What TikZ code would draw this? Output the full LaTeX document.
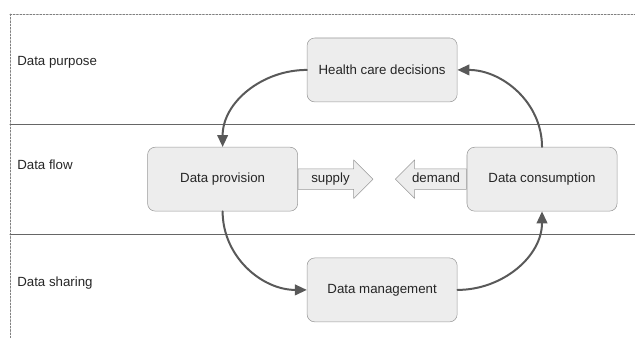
\documentclass[tikz,border=0pt]{standalone}
\usepackage{fontspec}
\setmainfont{Liberation Sans}
\usepackage{tikz}
\usetikzlibrary{arrows.meta}
\usetikzlibrary{positioning}
\usetikzlibrary{shapes.arrows}

\tikzset{
  stage/.style={draw=black!40,fill=black!7,rounded corners=0.2cm,text=black!85,
    minimum width=3.97cm,minimum height=1.69cm},
  layer/.style={anchor=west,text=black!85,inner xsep=0pt},
  flowarrow/.style={single arrow,draw=black!40,fill=black!7,text=black!85,
    single arrow head extend=0.24cm,text height=7pt,text depth=2pt,inner ysep=3pt,
    inner xsep=0pt,anchor=tail},
  cycle/.style={->,draw=black!65,line width=1.5pt}
}

\begin{document}
\begin{tikzpicture}[line cap=round,line join=round,>={Triangle[length=9pt,width=8pt]},x=1.0cm,y=1.0cm]
\clip(0,0) rectangle (16.8,-8.94);
% layers
\draw [black!50,dash pattern=on 1.5pt off 1pt] (0.26,-0.37)-- (16.8,-0.37);
\draw [black!50,dash pattern=on 1.5pt off 1pt] (0.26,-0.37)-- (0.26,-8.94);
\draw [black!60] (0.26,-3.28)-- (16.8,-3.28);
\draw [black!60] (0.26,-6.19)-- (16.8,-6.19);
\node[layer] (purpose) at (0.45,-1.64) {Data purpose};
\node[layer] (flow) at (0.45,-4.37) {Data flow};
\node[layer] (sharing) at (0.45,-7.49) {Data sharing};
% stages
\node[stage] (hcd) at (10.11,-1.85) {Health care decisions};
\node[stage] (dp) at (5.89,-4.74) {Data provision};
\node[stage] (dc) at (14.34,-4.74) {Data consumption};
\node[stage] (dm) at (10.11,-7.67) {Data management};
% supply and demand
\node[flowarrow,minimum height=1.98cm] (supply) at (dp.east) {supply};
\node[flowarrow,minimum height=1.88cm,shape border rotate=180] (demand) at (dc.west) {demand};
% cycle
\draw [cycle] (hcd.west) to[out=180,in=90] (dp.north);
\draw [cycle] (dp.south) to[out=-90,in=180] (dm.west);
\draw [cycle] (dm.east) to[out=0,in=-90] (dc.south);
\draw [cycle] (dc.north) to[out=90,in=0] (hcd.east);
\end{tikzpicture}
\end{document}
